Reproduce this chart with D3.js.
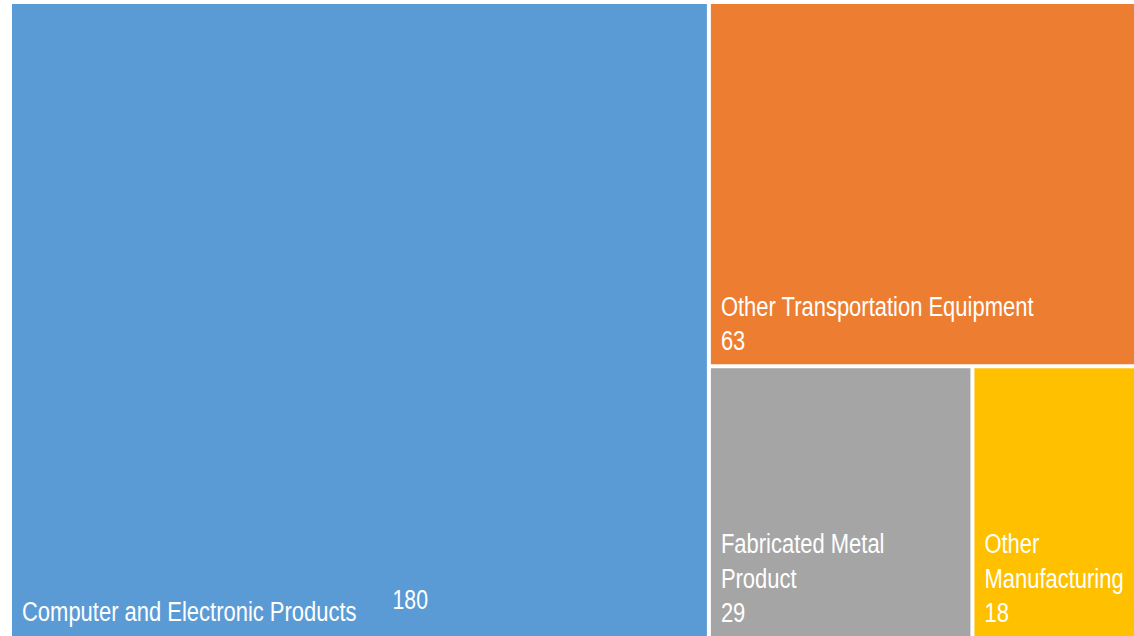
<!DOCTYPE html>
<html>
<head>
<meta charset="utf-8">
<script src="https://cdn.jsdelivr.net/npm/d3@7"></script>
<style>
  html, body { margin: 0; padding: 0; background: #fff; }
  svg text { font-family: "Liberation Sans", Arial, sans-serif; }
</style>
</head>
<body>
<svg id="chart" width="1134" height="636"></svg>
<script>
// Data
const categories = ["Computer and Electronic Products", "Other Transportation Equipment", "Fabricated Metal Product", "Other Manufacturing"];
const values = [180, 63, 29, 18];
const colors = ["#5B9BD5", "#ED7D31", "#A5A5A5", "#FFC000"];
// how each label is wrapped in its tile
const labelLines = [
  ["Computer and Electronic Products"],
  ["Other Transportation Equipment"],
  ["Fabricated Metal", "Product"],
  ["Other", "Manufacturing"]
];

const svg = d3.select("#chart");
const W = +svg.attr("width");
const H = +svg.attr("height");
const margin = { top: 4, right: 0, bottom: 0, left: 12 };
const innerW = W - margin.left - margin.right;
const innerH = H - margin.top - margin.bottom;

const g = svg.append("g").attr("transform", `translate(${margin.left},${margin.top})`);

const root = d3.hierarchy({
  children: categories.map((c, i) => ({ name: c, value: values[i], idx: i }))
}).sum(d => d.value || 0);

d3.treemap()
  .tile(d3.treemapSquarify)
  .size([innerW, innerH])
  .paddingInner(4)(root);

const leaves = root.leaves();

const cell = g.selectAll("g.cell")
  .data(leaves)
  .enter()
  .append("g")
  .attr("class", "cell");

cell.append("rect")
  .attr("x", d => d.x0)
  .attr("y", d => d.y0)
  .attr("width", d => d.x1 - d.x0)
  .attr("height", d => d.y1 - d.y0)
  .attr("fill", d => colors[d.data.idx]);

// condensed look: squeeze the regular sans horizontally
const fs = 28, lineH = 34.5, sx = 0.785;

cell.each(function (d) {
  const el = d3.select(this);
  const i = d.data.idx;
  const lines = labelLines[i];
  const x = d.x0 + 10;
  const base = d.y1 - 14;

  if (i === 0) {
    // biggest tile: name at bottom, value to its right a bit higher
    const t = el.append("text")
      .attr("transform", `translate(${x},${base - 1}) scale(${sx},1)`)
      .attr("fill", "#fff")
      .style("font-size", fs + "px")
      .text(lines[0]);
    const w = t.node().getComputedTextLength() * sx;
    el.append("text")
      .attr("transform", `translate(${x + w + 36},${base - 13}) scale(${sx},1)`)
      .attr("fill", "#fff")
      .style("font-size", (fs - 1) + "px")
      .text(values[i]);
  } else {
    const all = lines.concat([String(values[i])]);
    all.forEach((s, k) => {
      el.append("text")
        .attr("transform", `translate(${x},${base - (all.length - 1 - k) * lineH}) scale(${sx},1)`)
        .attr("fill", "#fff")
        .style("font-size", fs + "px")
        .text(s);
    });
  }
});
</script>
</body>
</html>
